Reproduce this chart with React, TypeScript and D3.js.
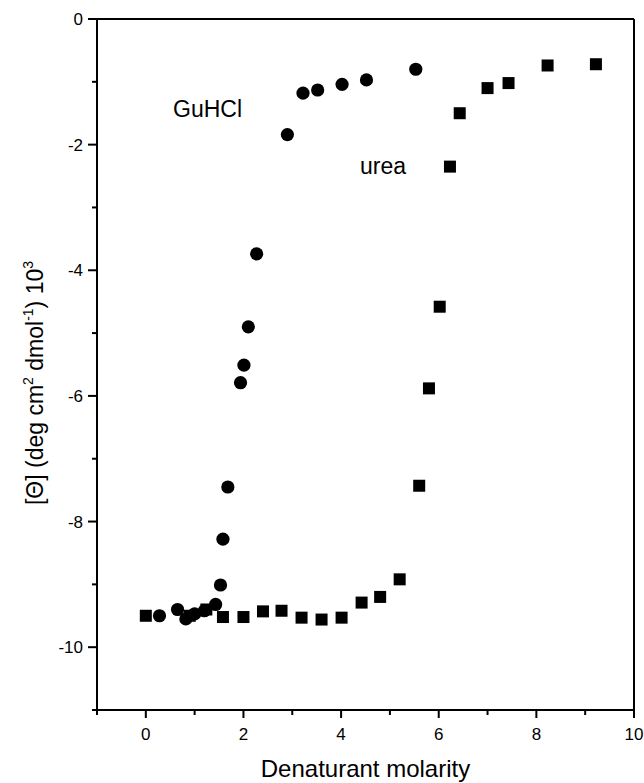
import React from "react";
import * as d3 from "d3";

const guhclX = [0.28, 0.65, 0.82, 1.0, 1.2, 1.43, 1.53, 1.58, 1.68, 1.94, 2.01, 2.1, 2.27, 2.9, 3.22, 3.52, 4.02, 4.52, 5.53];
const guhclY = [-9.5, -9.4, -9.55, -9.47, -9.42, -9.32, -9.01, -8.28, -7.45, -5.79, -5.51, -4.9, -3.74, -1.84, -1.18, -1.13, -1.04, -0.97, -0.8];

const ureaX = [0, 0.9, 1.24, 1.58, 2.0, 2.4, 2.78, 3.19, 3.6, 4.01, 4.42, 4.8, 5.2, 5.6, 5.8, 6.02, 6.23, 6.43, 7.0, 7.43, 8.23, 9.22];
const ureaY = [-9.5, -9.5, -9.4, -9.52, -9.52, -9.43, -9.42, -9.53, -9.56, -9.53, -9.29, -9.2, -8.92, -7.43, -5.88, -4.58, -2.35, -1.5, -1.1, -1.02, -0.74, -0.72];

const xMajor = [0, 2, 4, 6, 8, 10];
const xMinor = [-1, 1, 3, 5, 7, 9];
const yMajor = [0, -2, -4, -6, -8, -10];
const yMinor = [-1, -3, -5, -7, -9, -11];

const FONT = "'Liberation Sans', Arial, sans-serif";

export default function App() {
  const W = 644, H = 783;
  const L = 97, R = 634, T = 19, B = 710;
  const x = d3.scaleLinear().domain([-1, 10]).range([L, R]);
  const y = d3.scaleLinear().domain([-11, 0]).range([B, T]);
  const sq = 12;
  const axisW = 2;

  return (
    <svg width={W} height={H} style={{ position: "absolute", left: 0, top: 0, background: "#fff" }}>
      <rect x={0} y={0} width={W} height={H} fill="#fff" />
      {/* frame */}
      <line x1={L} x2={R} y1={T} y2={T} stroke="#000" strokeWidth={axisW} />
      <line x1={R} x2={R} y1={T} y2={B} stroke="#000" strokeWidth={axisW} />
      <line x1={L} x2={L} y1={T} y2={B} stroke="#000" strokeWidth={axisW} />
      <line x1={L} x2={R} y1={B} y2={B} stroke="#000" strokeWidth={axisW} />

      {/* x ticks */}
      {xMajor.map((v) => (
        <g key={"xm" + v}>
          <line x1={x(v)} x2={x(v)} y1={B} y2={B + 8} stroke="#000" strokeWidth={axisW} />
          <text x={x(v)} y={740} textAnchor="middle" fontFamily={FONT} fontSize={17}>{v}</text>
        </g>
      ))}
      {xMinor.map((v) => (
        <line key={"xn" + v} x1={x(v)} x2={x(v)} y1={B} y2={B + 5} stroke="#000" strokeWidth={axisW} />
      ))}

      {/* y ticks */}
      {yMajor.map((v) => (
        <g key={"ym" + v}>
          <line x1={L - 9} x2={L} y1={y(v)} y2={y(v)} stroke="#000" strokeWidth={axisW} />
          <text x={83} y={y(v) + 6} textAnchor="end" fontFamily={FONT} fontSize={17}>{v}</text>
        </g>
      ))}
      {yMinor.map((v) => (
        <line key={"yn" + v} x1={L - 5} x2={L} y1={y(v)} y2={y(v)} stroke="#000" strokeWidth={axisW} />
      ))}

      {/* data */}
      {ureaX.map((v, i) => (
        <rect key={"u" + i} x={x(v) - sq / 2} y={y(ureaY[i]) - sq / 2} width={sq} height={sq} fill="#000" />
      ))}
      {guhclX.map((v, i) => (
        <circle key={"g" + i} cx={x(v)} cy={y(guhclY[i])} r={6.6} fill="#000" />
      ))}

      {/* labels */}
      <text x={173} y={117} fontFamily={FONT} fontSize={23}>GuHCl</text>
      <text x={360} y={174} fontFamily={FONT} fontSize={23}>urea</text>

      <text x={(L + R) / 2} y={777} textAnchor="middle" fontFamily={FONT} fontSize={24}>Denaturant molarity</text>

      <text
        transform={`translate(43, 383) rotate(-90)`}
        textAnchor="middle"
        fontFamily={FONT}
        fontSize={23}
      >
        [Θ] (deg cm<tspan dy={-10} fontSize={14}>2</tspan>
        <tspan dy={10}> dmol</tspan>
        <tspan dy={-10} fontSize={14}>-1</tspan>
        <tspan dy={10}>) 10</tspan>
        <tspan dy={-10} fontSize={14}>3</tspan>
      </text>
    </svg>
  );
}
